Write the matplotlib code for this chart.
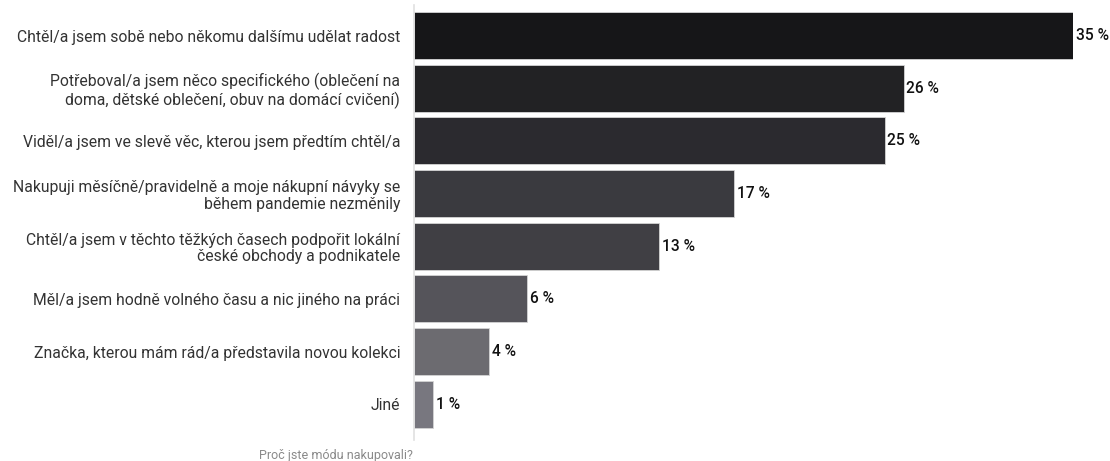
import matplotlib.pyplot as plt

plt.rcParams['font.family'] = ['Roboto', 'DejaVu Sans']

# Reasons for buying fashion (share of respondents, %)
reasons = [
    "Chtěl/a jsem sobě nebo někomu dalšímu udělat radost",
    "Potřeboval/a jsem něco specifického (oblečení na\ndoma, dětské oblečení, obuv na domácí cvičení)",
    "Viděl/a jsem ve slevě věc, kterou jsem předtím chtěl/a",
    "Nakupuji měsíčně/pravidelně a moje nákupní návyky se\nběhem pandemie nezměnily",
    "Chtěl/a jsem v těchto těžkých časech podpořit lokální\nčeské obchody a podnikatele",
    "Měl/a jsem hodně volného času a nic jiného na práci",
    "Značka, kterou mám rád/a představila novou kolekci",
    "Jiné",
]
shares = [35, 26, 25, 17, 13, 6, 4, 1]
colors = ["#161618", "#222224", "#2b2a2f", "#3a3a3f",
          "#403f44", "#55545a", "#6c6b70", "#78777f"]

fig = plt.figure(figsize=(11.1, 4.61), dpi=100)
W, H = 1110, 461
ax = fig.add_axes([414 / W, 1 - 440 / H, (1073 - 414) / W, 435 / H])

y = list(range(len(reasons)))
ax.barh(y, shares, height=0.89, color=colors, edgecolor="#d4d4d4", linewidth=0.6)
ax.set_xlim(0, 35)
ax.set_ylim(7.68, -0.58)

for yi, v in zip(y, shares):
    ax.annotate(f"{v} %", (v, yi), xytext=(2, 0), textcoords="offset points",
                va="center", ha="left", fontsize=11.2, color="#111111",
                fontweight="medium")

ax.set_yticks(y)
ax.set_yticklabels(reasons, fontsize=11.3, color="#333333", ha="right",
                   linespacing=1.15)
ax.tick_params(axis="y", length=0, pad=10)
ax.set_xticks([])

for side in ["top", "right", "bottom"]:
    ax.spines[side].set_visible(False)
ax.spines["left"].set_color("#e0e0e0")
ax.spines["left"].set_linewidth(1.2)

fig.text(413 / W, 1 - 455 / H, "Proč jste módu nakupovali?", ha="right",
         va="center", fontsize=9, color="#8a8a8a")

fig.savefig("out.png", dpi=100)
